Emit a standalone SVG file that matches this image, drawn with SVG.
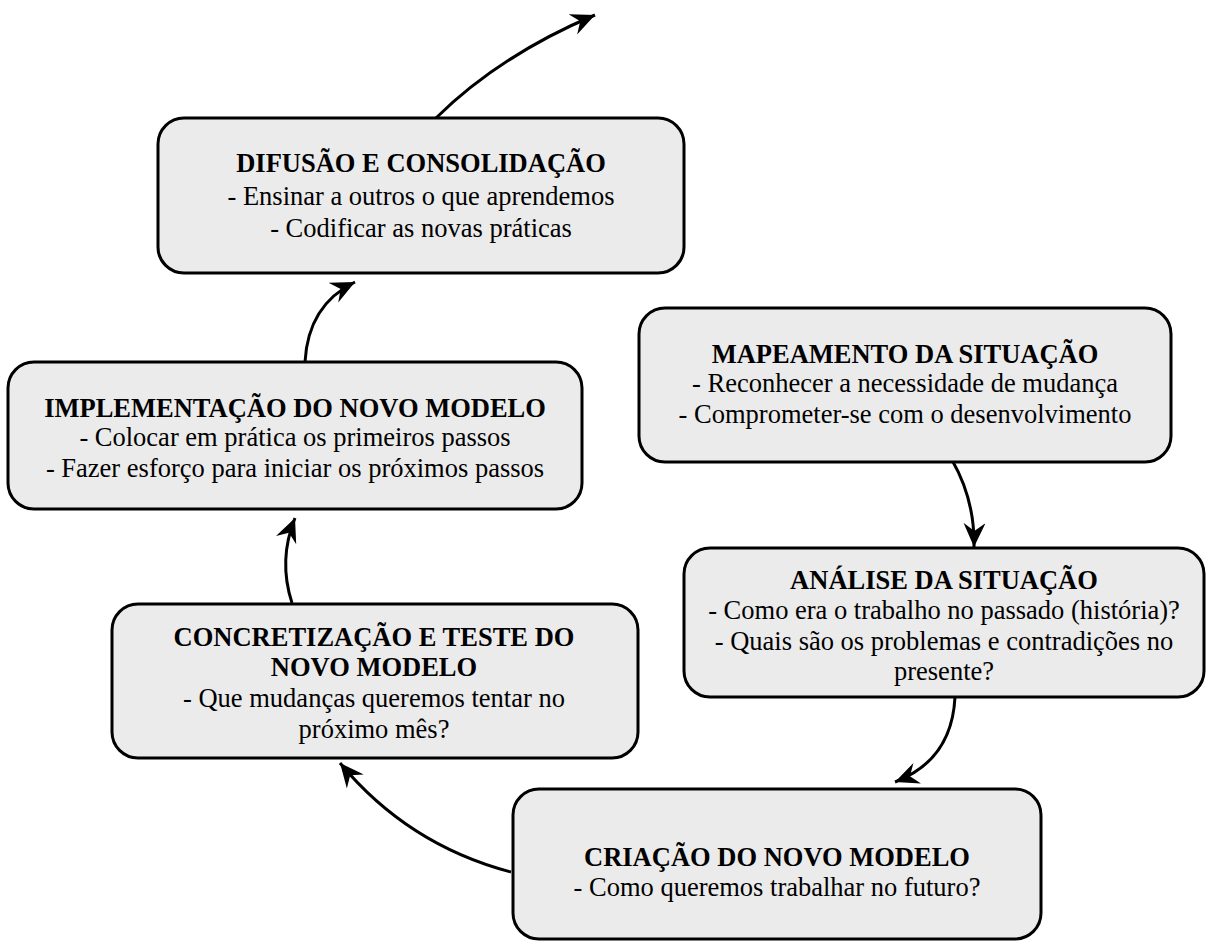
<svg xmlns="http://www.w3.org/2000/svg" width="1208" height="941" viewBox="0 0 1208 941">
<style>
.box{fill:#ebebeb;stroke:#000;stroke-width:3}
.t{font-family:"Liberation Serif","Times New Roman",serif;font-size:26.5px;fill:#000;text-anchor:middle}
.b{font-weight:bold}
.c{fill:none;stroke:#000;stroke-width:3}
</style>
<defs>
<marker id="ah" markerUnits="userSpaceOnUse" markerWidth="26" markerHeight="24" refX="24" refY="11" orient="auto">
<path d="M0,0 L24,11 L0,22 L8,11 Z" fill="#000"/>
</marker>
</defs>
<rect width="1208" height="941" fill="#fff"/>
<g id="connectors">
<path class="c" d="M436,118 Q500,55 595,15" marker-end="url(#ah)"/>
<path class="c" d="M305,362 Q308,305 355,282" marker-end="url(#ah)"/>
<path class="c" d="M952,460 Q975,500 974,547" marker-end="url(#ah)"/>
<path class="c" d="M955,697 Q952,760 895,782" marker-end="url(#ah)"/>
<path class="c" d="M511,872 Q408,845 340,763" marker-end="url(#ah)"/>
<path class="c" d="M292,603 Q278,560 295,518" marker-end="url(#ah)"/>
</g>
<g id="difusao">
<rect class="box" x="158" y="118" width="526" height="155" rx="26"/>
<text class="t b" x="421" y="172">DIFUSÃO E CONSOLIDAÇÃO</text>
<text class="t" x="421" y="205">- Ensinar a outros o que aprendemos</text>
<text class="t" x="421" y="237">- Codificar as novas práticas</text>
</g>
<g id="mapeamento">
<rect class="box" x="639" y="308" width="532" height="154" rx="26"/>
<text class="t b" x="905" y="363">MAPEAMENTO DA SITUAÇÃO</text>
<text class="t" x="905" y="392">- Reconhecer a necessidade de mudança</text>
<text class="t" x="905" y="423">- Comprometer-se com o desenvolvimento</text>
</g>
<g id="implementacao">
<rect class="box" x="8" y="362" width="574" height="147" rx="26"/>
<text class="t b" x="295" y="417">IMPLEMENTAÇÃO DO NOVO MODELO</text>
<text class="t" x="295" y="446">- Colocar em prática os primeiros passos</text>
<text class="t" x="295" y="477">- Fazer esforço para iniciar os próximos passos</text>
</g>
<g id="analise">
<rect class="box" x="684" y="548" width="520" height="149" rx="26"/>
<text class="t b" x="944" y="589">ANÁLISE DA SITUAÇÃO</text>
<text class="t" x="944" y="619">- Como era o trabalho no passado (história)?</text>
<text class="t" x="944" y="650">- Quais são os problemas e contradições no</text>
<text class="t" x="944" y="680">presente?</text>
</g>
<g id="concretizacao">
<rect class="box" x="112" y="604" width="526" height="154" rx="26"/>
<text class="t b" x="374" y="646">CONCRETIZAÇÃO E TESTE DO</text>
<text class="t b" x="374" y="676">NOVO MODELO</text>
<text class="t" x="374" y="707">- Que mudanças queremos tentar no</text>
<text class="t" x="374" y="738">próximo mês?</text>
</g>
<g id="criacao">
<rect class="box" x="513" y="789" width="528" height="150" rx="26"/>
<text class="t b" x="777" y="866">CRIAÇÃO DO NOVO MODELO</text>
<text class="t" x="777" y="896">- Como queremos trabalhar no futuro?</text>
</g>
</svg>
